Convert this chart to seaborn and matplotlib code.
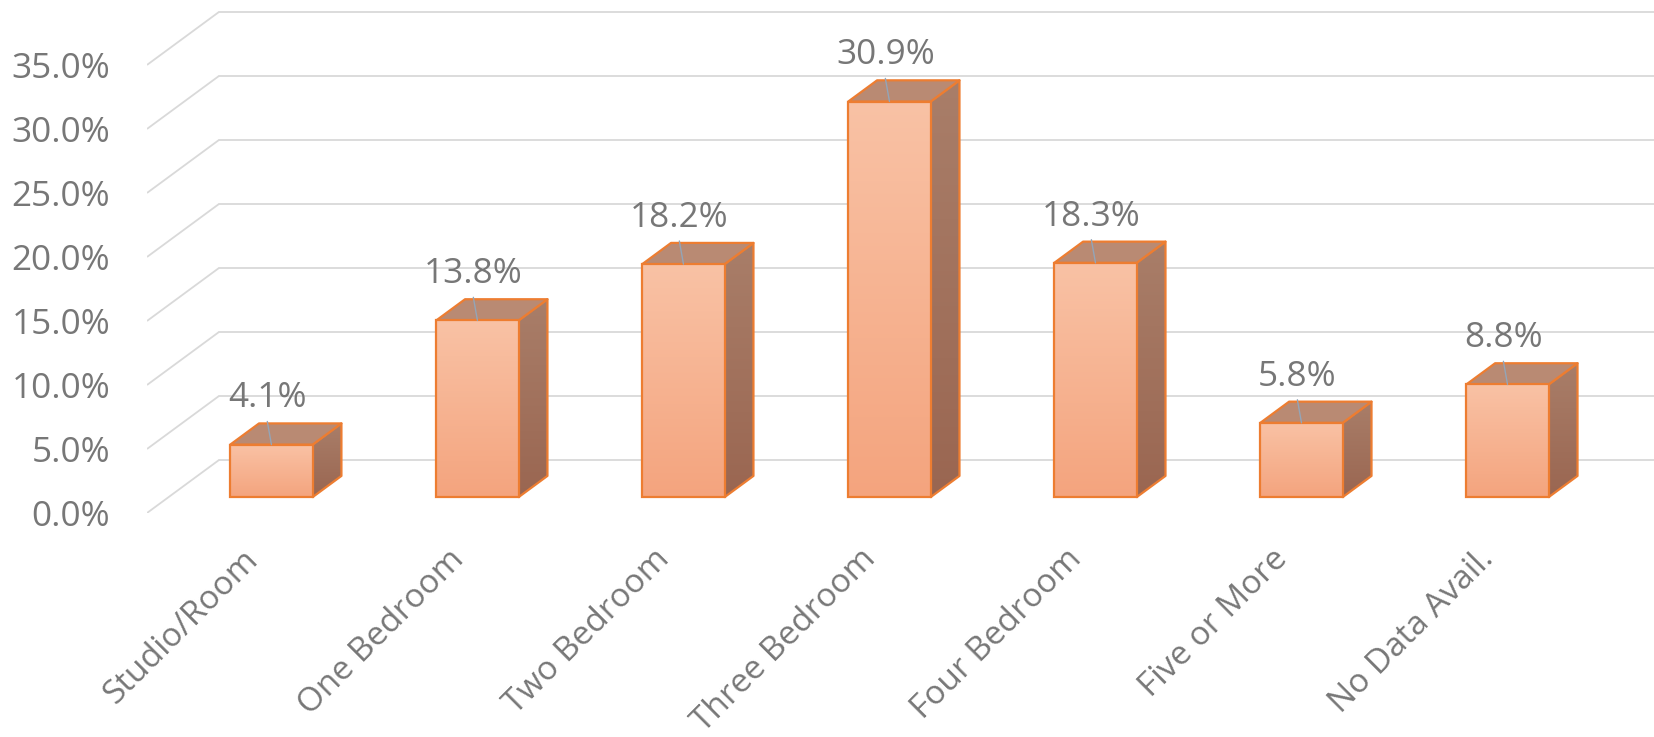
import numpy as np
import pandas as pd
import matplotlib
matplotlib.use("Agg")
import matplotlib.pyplot as plt
import seaborn as sns
from matplotlib.patches import Polygon
from matplotlib.colors import LinearSegmentedColormap

# ---- data ----
categories = ["Studio/Room", "One Bedroom", "Two Bedroom", "Three Bedroom",
              "Four Bedroom", "Five or More", "No Data Avail."]
shares = [4.1, 13.8, 18.2, 30.9, 18.3, 5.8, 8.8]
y_ticks = [0, 5, 10, 15, 20, 25, 30, 35]
y_tick_labels = [f"{t:.1f}%" for t in y_ticks]

# ---- style ----
sns.set_theme(style="white")
plt.rcParams['font.family'] = ['Open Sans', 'DejaVu Sans']
TEXT = "#777777"
GRID = "#d9d9d9"
EDGE = "#ed7d31"
FS = 25.3
FSX = 24.0

W, H = 1654, 737
fig = plt.figure(figsize=(W / 100, H / 100), dpi=100)
ax = fig.add_axes([147 / W, (H - 513) / H, 1 - 147 / W, 513 / H])

# 3-D geometry (data units: category index, percent)
DX, DY = 0.3495, 4.14           # full floor depth
BF, BB = 0.3, 0.7               # bar front / back depth fraction
bdx, bdy = (BB - BF) * DX, (BB - BF) * DY
fx, fy = -BF * DX, -BF * DY     # front plane offset relative to bar front
xlim = (-0.604, 6.711)
ylim = (fy, 38.83)

df = pd.DataFrame({"cat": categories, "share": shares})
sns.barplot(data=df, x="cat", y="share", width=0.4, ax=ax, color=EDGE,
            saturation=1, zorder=3)

# gridlines: left wall diagonals + back wall
for t in y_ticks:
    ax.plot([xlim[0], xlim[0] + DX], [t + fy, t + fy + DY], color=GRID, lw=1.3, zorder=1,
            solid_capstyle="butt")
    ax.plot([xlim[0] + DX, xlim[1]], [t + fy + DY] * 2, color=GRID, lw=1.3, zorder=1)

front_cmap = LinearSegmentedColormap.from_list("front", ["#f9c2a5", "#f4a47e"])
side_cmap = LinearSegmentedColormap.from_list("side", ["#a97e69", "#9a6651"])
grad = np.linspace(0, 1, 256).reshape(-1, 1)

for i, p in enumerate(ax.patches):
    x0, w, h = p.get_x(), p.get_width(), p.get_height()
    # side face
    side = Polygon([(x0 + w, 0), (x0 + w + bdx, bdy), (x0 + w + bdx, h + bdy), (x0 + w, h)],
                   closed=True, facecolor="none", edgecolor=EDGE, lw=1.6, zorder=3.2,
                   joinstyle="round")
    ax.add_patch(side)
    im = ax.imshow(grad, extent=[x0 + w, x0 + w + bdx, 0, h + bdy], origin="upper",
                   cmap=side_cmap, aspect="auto", zorder=3.1)
    im.set_clip_path(side)
    # top face
    top = Polygon([(x0, h), (x0 + bdx, h + bdy), (x0 + w + bdx, h + bdy), (x0 + w, h)],
                  closed=True, facecolor="#b98a73", edgecolor=EDGE, lw=1.6, zorder=3.2,
                  joinstyle="round")
    ax.add_patch(top)
    # front face with gradient
    p.set_facecolor("none")
    p.set_edgecolor(EDGE)
    p.set_linewidth(1.6)
    p.set_zorder(3.4)
    im2 = ax.imshow(grad, extent=[x0, x0 + w, 0, h], origin="upper",
                    cmap=front_cmap, aspect="auto", zorder=3.3)
    im2.set_clip_path(p)
    # leader line + data label
    cx = x0 + w / 2
    ax.plot([cx - 0.02, cx], [h + bdy + 0.15, h], color="#93a5b8", lw=1.0, zorder=3.5)
    ax.text(cx - 0.02, h + 2.9, f"{shares[i]:.1f}%", ha="center", va="baseline",
            fontsize=FS, color=TEXT, zorder=4)

ax.set_xlim(*xlim)
ax.set_ylim(*ylim)
ax.set_yticks([t + fy for t in y_ticks], y_tick_labels)
ax.set_xticks(np.arange(len(categories)) - 0.146, categories, rotation=45,
              ha="right", rotation_mode="anchor")
ax.tick_params(axis="y", length=0, pad=26.6, labelsize=FS, labelcolor=TEXT)
ax.tick_params(axis="x", length=0, pad=21.5, labelsize=FSX, labelcolor=TEXT)
ax.set_xlabel("")
ax.set_ylabel("")
ax.grid(False)
for s in ax.spines.values():
    s.set_visible(False)

fig.savefig("out.png", dpi=100, facecolor="white")
